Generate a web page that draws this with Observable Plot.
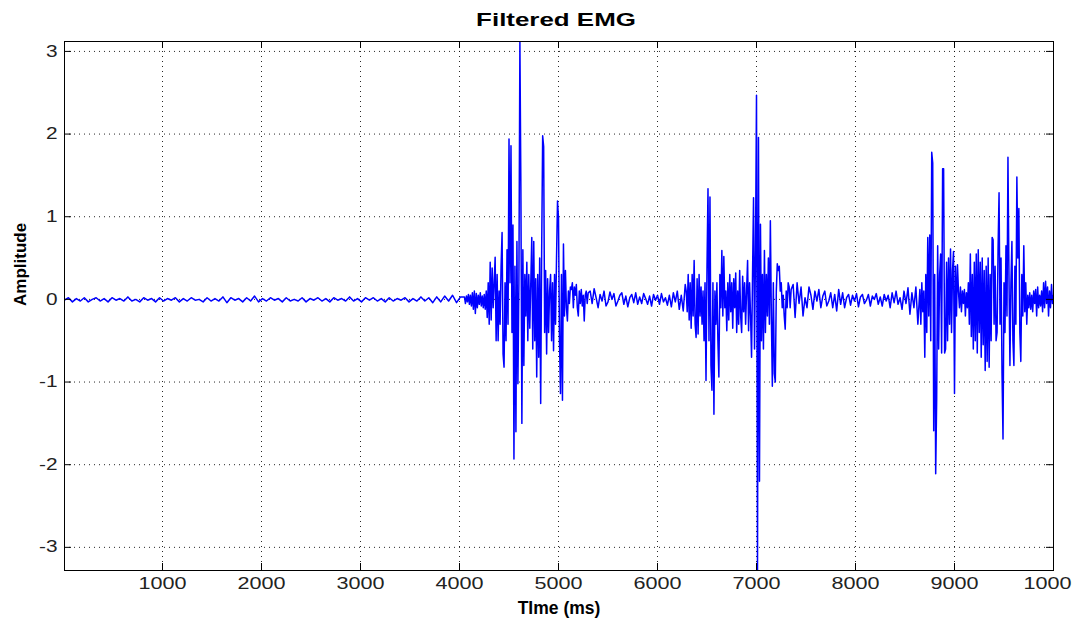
<!DOCTYPE html>
<html><head><meta charset="utf-8">
<script src="https://cdn.jsdelivr.net/npm/d3@7"></script>
<script src="https://cdn.jsdelivr.net/npm/@observablehq/plot@0.6"></script>
<style>
body{margin:0;background:#fff;width:1072px;height:618px;overflow:hidden;font-family:"Liberation Sans",Arial,sans-serif;}
#title{height:32px;position:relative;}
#title span{position:absolute;left:556px;top:11px;line-height:18.5px;font-size:18.5px;font-weight:bold;color:#000;white-space:nowrap;transform:translateX(-50%) scaleX(1.4);}
#chart svg{display:block;overflow:visible;}
</style></head><body>
<div id="title"><span>Filtered EMG</span></div>
<div id="chart"></div>
<script>
// Tick values
const xTicks = [1000,2000,3000,4000,5000,6000,7000,8000,9000,10000];
const yTicks = [-3,-2,-1,0,1,2,3];

// Quiet baseline: starts at 10 ms, one value every 40 ms
const baselineStart = 10, baselineStep = 40;
const baselineValues = [
 -0.01,0.02,-0.03,0.01,-0.02,0.02,-0.03,0.0,0.02,-0.02,
 0.01,-0.03,0.02,-0.01,0.01,-0.02,0.03,-0.02,0.0,-0.03,
 0.02,-0.01,0.01,-0.03,0.02,-0.02,0.01,-0.01,0.02,-0.03,
 0.01,-0.02,0.02,-0.01,0.0,-0.03,0.02,-0.02,0.01,-0.02,
 0.03,-0.04,0.02,-0.01,0.01,-0.03,0.02,-0.02,0.04,-0.03,
 0.01,-0.02,0.02,-0.01,0.01,-0.03,0.02,-0.02,0.0,-0.02,
 0.02,-0.03,0.01,-0.01,0.02,-0.02,0.01,-0.03,0.02,-0.01,
 0.01,-0.02,0.03,-0.02,0.01,-0.03,0.02,-0.01,0.02,-0.02,
 0.01,-0.03,0.02,-0.02,0.01,-0.01,0.02,-0.03,0.01,-0.02,
 0.03,-0.02,0.02,-0.04,0.03,-0.03,0.04,-0.02,0.05,-0.04,
 0.03];

// First burst: starts at 4050 ms, every 10 ms
const burst1Start = 4050, burst1Step = 10;
const burst1Values = [
 0.03,-0.05,0.04,-0.03,0.06,-0.06,0.05,-0.08,0.08,-0.12,
 0.1,-0.17,0.07,-0.1,0.05,-0.06,0.08,-0.08,0.04,-0.1,
 0.06,-0.12,0.1,-0.22,0.2,-0.3,0.45,-0.25,0.38,-0.1,
 0.2,0.51,-0.5,0.3,-0.5,0.1,-0.3,0.4,0.81,-0.66,
 -0.82,0.2,-0.5,0.6,-0.3,1.94,0.2,1.86,-0.4,0.9,
 -1.93,0.4,-1.6,0.7,-1.02,0.2,3.12,1.35,-1.5,0.6,
 -0.8,0.3,-0.2,0.45,-0.5,0.3,-0.35,0.2,0.75,-0.6,
 0.7,-0.5,0.25,-0.94,0.3,-0.7,0.5,-1.26,0.6,1.98,
 1.85,-0.4,0.35,-0.66,0.25,-0.4,0.1,0.3,-0.5,0.2,
 -0.62,0.3,-0.3,0.5,1.19,0.98,-0.5,-1.14,0.3,-1.22,
 0.67,-0.2,0.35,-0.1,-0.26,0.1,-0.05,0.15,0.12,0.2,
 -0.1,0.15,0.05,0.18,-0.1,-0.2,0.1,-0.05,0.12,-0.08,
 0.05,-0.26,0.05,0.1,-0.05,0.08];

// Quiet gap: starts at 5320 ms, every 20 ms
const gap1Start = 5320, gap1Step = 20;
const gap1Values = [
 0.1,-0.05,0.13,0.02,-0.1,0.06,-0.02,0.1,-0.08,-0.03,
 0.09,0.0,0.07,-0.08,-0.02,0.05,0.08,-0.06,0.04,-0.09,
 0.02,0.06,-0.04,0.08,-0.06,0.03,-0.05,0.07,0.01,-0.06,
 0.04,-0.08,0.06,-0.01,0.05,-0.06,0.07,-0.03,0.02,-0.07,
 0.05,-0.09,0.08,-0.03,0.1,-0.12,0.05,-0.14,0.18];

// Second burst: starts at 6290 ms, every 10 ms
const burst2Start = 6290, burst2Step = 10;
const burst2Values = [
 0.1,-0.15,0.3,-0.25,0.2,-0.35,0.3,-0.2,0.47,-0.3,
 -0.46,0.25,-0.42,0.3,-0.2,0.15,-0.3,0.1,-0.5,0.2,
 -0.98,0.4,1.34,-0.5,1.24,-0.8,-1.1,0.2,-1.39,0.1,
 -0.3,0.2,-0.5,-0.94,0.3,-0.1,0.59,-0.2,0.52,-0.1,
 0.1,-0.38,0.2,-0.25,0.3,-0.15,0.2,-0.35,0.25,-0.1,
 0.32,-0.4,0.1,-0.3,0.35,-0.2,-0.4,0.28,-0.15,0.2,
 -0.3,0.1,0.47,-0.38,0.2,-0.2,-0.7,0.3,1.23,-0.6,
 0.6,2.47,-3.28,1.96,-2.2,0.91,-0.5,0.3,-0.6,0.59,
 -0.4,0.3,-0.2,0.5,-0.3,0.95,-0.2,-1.05,0.2,-0.9,
 -1.0,0.1,0.43,0.35,0.4,0.1,0.2,-0.1,0.05,-0.2,
 -0.36,0.1,-0.1,0.2,0.15,-0.1,0.12];

// Quiet gap: starts at 7370 ms, every 20 ms
const gap2Start = 7370, gap2Step = 20;
const gap2Values = [
 0.18,-0.22,0.2,-0.05,0.15,-0.2,0.02,-0.1,0.15,0.05,
 -0.12,0.1,-0.02,0.12,-0.1,0.04,0.1,-0.08,-0.02,0.08,
 -0.1,0.06,-0.14,0.12,-0.06,0.08,-0.1,0.02,0.06,-0.07,
 0.05,-0.02,0.07,-0.09,0.03,0.06,-0.05,-0.01,0.06,-0.08,
 0.04,0.0,0.07,-0.06,0.03,-0.08,0.06,-0.02,0.05,-0.1,
 0.08,-0.04,0.1,-0.06,0.02,-0.12,0.1,-0.05,0.14,-0.18,
 0.08,-0.1,0.15,-0.3,0.12];

// Third burst: starts at 8660 ms, every 10 ms
const burst3Start = 8660, burst3Step = 10;
const burst3Values = [
 -0.3,0.2,-0.15,0.1,-0.7,0.3,-0.4,0.75,-0.2,0.78,
 -0.5,1.78,1.65,-1.59,0.3,-2.11,-1.2,0.65,-0.6,0.3,
 0.55,-0.65,1.58,1.58,-0.65,-0.6,0.45,-0.5,0.5,-0.3,
 0.61,-0.4,0.35,0.58,-1.14,0.4,-0.2,0.42,0.1,-0.1,
 0.15,-0.15,0.1,-0.05,0.12,-0.2,0.08,-0.1,0.2,-0.3,
 0.55,-0.45,0.3,-0.6,0.45,-0.5,0.55,-0.65,0.6,-0.4,
 0.45,-0.7,0.5,-0.55,0.35,-0.86,0.4,-0.75,0.5,-0.82,
 0.3,-0.5,0.75,0.72,-0.3,0.4,-0.5,-0.4,0.6,1.29,
 -0.3,0.5,-0.9,-1.69,0.2,-0.4,0.65,-0.2,1.72,0.3,
 -0.8,0.2,0.7,-0.5,-0.8,0.4,-0.3,1.48,0.5,1.1,
 -0.4,-0.75,0.3,-0.2,0.65,-0.15,0.2,-0.3,0.05,-0.1,
 0.08,-0.12,0.05,-0.15,0.1,-0.05,0.12,-0.2,0.15,-0.1,
 0.05,-0.08,0.1,-0.15,0.2,-0.1,0.22,-0.05,0.15,-0.2,
 0.1,-0.1,0.18,-0.05,0.05];

const segments = [
  [baselineStart, baselineStep, baselineValues],
  [burst1Start, burst1Step, burst1Values],
  [gap1Start, gap1Step, gap1Values],
  [burst2Start, burst2Step, burst2Values],
  [gap2Start, gap2Step, gap2Values],
  [burst3Start, burst3Step, burst3Values]
];
const emg = [];
for (const [start, step, vals] of segments) vals.forEach((v, i) => emg.push({t: start + i * step, v}));

const W = 1072, H = 586, mL = 64, mR = 19, mT = 9, mB = 48;
const fw = W - mL - mR, fh = H - mT - mB;
const fmt = d => String(d);

const svg = Plot.plot({
  width: W, height: H,
  marginLeft: mL, marginRight: mR, marginTop: mT, marginBottom: mB,
  style: {fontFamily: "'Liberation Sans', Arial, sans-serif", fontSize: "16px", color: "#222", background: "#fff", overflow: "visible"},
  x: {domain: [10, 10000], label: null},
  y: {domain: [-3.28, 3.12], label: null},
  marks: [
    Plot.gridX(xTicks, {stroke: "#000", strokeOpacity: 0.85, strokeDasharray: "1,4"}),
    Plot.gridY(yTicks, {stroke: "#000", strokeOpacity: 0.85, strokeDasharray: "1,4"}),
    Plot.line(emg, {x: "t", y: "v", stroke: "#0000ff", strokeWidth: 1.5, clip: true}),
    Plot.frame({stroke: "#000", strokeWidth: 1}),
    Plot.tickX(xTicks, {stroke: "#000", insetTop: fh - 7}),
    Plot.tickX(xTicks, {stroke: "#000", insetBottom: fh - 7}),
    Plot.tickY(yTicks, {stroke: "#000", insetRight: fw - 7}),
    Plot.tickY(yTicks, {stroke: "#000", insetLeft: fw - 7}),
    Plot.axisX(xTicks, {tickSize: 0, tickPadding: 7, fontSize: 16, tickFormat: fmt, label: null, fill: "#222"}),
    Plot.axisY(yTicks, {tickSize: 0, tickPadding: 7, fontSize: 16, tickFormat: fmt, label: null, fill: "#222"}),
    Plot.text(["TIme (ms)"], {frameAnchor: "bottom", dy: 43, lineAnchor: "bottom", fontWeight: "bold", fontSize: 17.5, fill: "#000", ariaLabel: "xlabel"}),
    Plot.text(["Amplitude"], {frameAnchor: "left", dx: -39, rotate: -90, lineAnchor: "bottom", fontWeight: "bold", fontSize: 17, fill: "#000", ariaLabel: "ylabel"})
  ]
});
document.getElementById("chart").appendChild(svg);

function stretch(sel, s) {
  d3.select(svg).selectAll(sel).each(function() {
    const t = this.getAttribute("transform") || "";
    this.setAttribute("transform", t + ` scale(${s},1)`);
  });
}
stretch('g[aria-label="x-axis tick label"] text', 1.35);
stretch('g[aria-label="y-axis tick label"] text', 1.3);
stretch('g[aria-label="xlabel"] text', 1.22);
stretch('g[aria-label="ylabel"] text', 1.03);
</script>
</body></html>
